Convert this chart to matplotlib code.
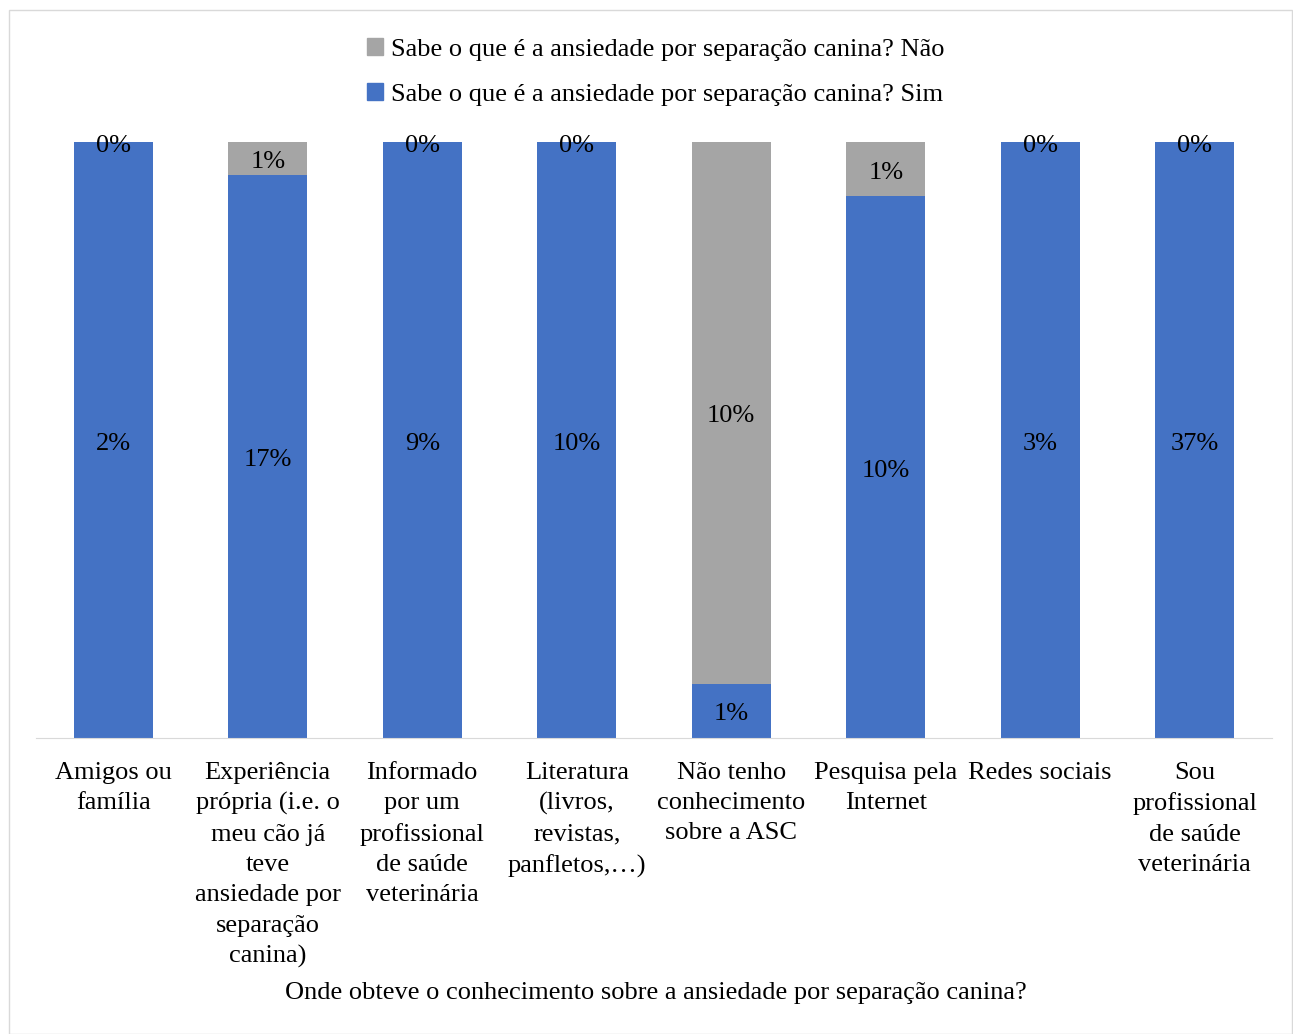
import matplotlib.pyplot as plt
from matplotlib.patches import Rectangle, Patch
import numpy as np

plt.rcParams['font.family'] = ['Liberation Serif', 'DejaVu Serif']

# Categorias (origem do conhecimento) e percentagens do total
categorias = [
    "Amigos ou\nfamília",
    "Experiência\nprópria (i.e. o\nmeu cão já\nteve\nansiedade por\nseparação\ncanina)",
    "Informado\npor um\nprofissional\nde saúde\nveterinária",
    "Literatura\n(livros,\nrevistas,\npanfletos,…)",
    "Não tenho\nconhecimento\nsobre a ASC",
    "Pesquisa pela\nInternet",
    "Redes sociais",
    "Sou\nprofissional\nde saúde\nveterinária",
]
sim = [2, 17, 9, 10, 1, 10, 3, 37]
nao = [0, 1, 0, 0, 10, 1, 0, 0]

rotulo_sim = "Sabe o que é a ansiedade por separação canina? Sim"
rotulo_nao = "Sabe o que é a ansiedade por separação canina? Não"
cor_sim = "#4472C4"
cor_nao = "#A5A5A5"
fs = 19

sim = np.array(sim, dtype=float)
nao = np.array(nao, dtype=float)
total = sim + nao
frac_sim = sim / total
frac_nao = nao / total

fig = plt.figure(figsize=(12.93, 10.34), dpi=100)
# moldura do gráfico
fig.patches.append(Rectangle((9 / 1293, 0.0), 1283 / 1293, 1024 / 1034,
                             transform=fig.transFigure, fill=False,
                             edgecolor="#D9D9D9", linewidth=1))

ax = fig.add_axes([36 / 1293, (1034 - 738) / 1034, 1236 / 1293, 596 / 1034])
x = np.arange(len(categorias))
largura = 0.51
ax.bar(x, frac_sim, largura, color=cor_sim)
ax.bar(x, frac_nao, largura, bottom=frac_sim, color=cor_nao)

# rótulos de dados no centro de cada segmento (ligeiramente abaixo, como no Excel)
for i in range(len(x)):
    ax.text(x[i], frac_sim[i] / 2 - 0.006, f"{sim[i]:.0f}%", ha="center", va="center", fontsize=fs)
    ax.text(x[i], frac_sim[i] + frac_nao[i] / 2 - 0.006, f"{nao[i]:.0f}%", ha="center", va="center", fontsize=fs)

ax.set_xlim(-0.5, len(x) - 0.5)
ax.set_ylim(0, 1)
ax.set_yticks([])
ax.set_xticks(x)
ax.set_xticklabels(categorias, fontsize=fs, linespacing=1.49, va="top")
ax.tick_params(axis="x", length=0, pad=17)
for lado in ["top", "left", "right"]:
    ax.spines[lado].set_visible(False)
ax.spines["bottom"].set_color("#D9D9D9")

fig.text(0.507, (1034 - 993) / 1034, "Onde obteve o conhecimento sobre a ansiedade por separação canina?",
         ha="center", va="center", fontsize=fs)

handles = [Patch(color=cor_nao), Patch(color=cor_sim)]
fig.legend(handles, [rotulo_nao, rotulo_sim], loc="center", bbox_to_anchor=(0.507, (1034 - 72) / 1034),
           ncol=1, frameon=False, fontsize=fs, handlelength=0.6, handleheight=0.6,
           handletextpad=0.3, labelspacing=0.85)

fig.savefig("out.png", dpi=100)
